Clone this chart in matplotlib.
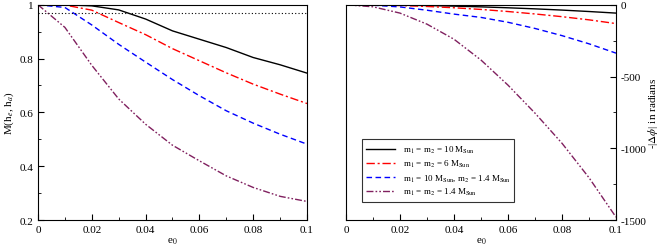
import matplotlib
matplotlib.use("Agg")
import matplotlib.pyplot as plt
from matplotlib.ticker import MultipleLocator

plt.rcParams['font.family'] = ['Liberation Serif', 'DejaVu Serif']
plt.rcParams['mathtext.fontset'] = 'stix'

e0 = [0.0, 0.01, 0.02, 0.03, 0.04, 0.05, 0.06, 0.07, 0.08, 0.09, 0.1]

# Left panel: match M(h_e, h_a)
match_10_10 = [1.0, 1.0, 0.996, 0.981, 0.947, 0.903, 0.872, 0.841, 0.804, 0.777, 0.746]
match_6_6 = [1.0, 0.999, 0.980, 0.934, 0.889, 0.837, 0.792, 0.747, 0.705, 0.668, 0.633]
match_10_14 = [1.0, 0.990, 0.925, 0.853, 0.787, 0.722, 0.662, 0.606, 0.560, 0.519, 0.482]
match_14_14 = [1.0, 0.916, 0.775, 0.650, 0.556, 0.478, 0.420, 0.364, 0.321, 0.288, 0.269]
threshold = 0.97

# Right panel: -|delta phi| in radians
phase_10_10 = [0, -0.6, -2.3, -5.2, -9.3, -14.5, -21, -28.4, -37, -47, -58]
phase_6_6 = [0, -1.3, -5.2, -11.7, -20.8, -32.5, -47, -64, -83, -105, -131]
phase_10_14 = [0, -3, -15, -38, -65, -88, -122, -165, -215, -272, -337]
phase_14_14 = [0, -14, -58, -135, -240, -385, -560, -755, -965, -1205, -1480]

labels = [r'm$_1$ = m$_2$ = 10 M$_{\rm Sun}$',
          r'm$_1$ = m$_2$ = 6 M$_{\rm Sun}$',
          r'm$_1$ = 10 M$_{\rm Sun}$, m$_2$ = 1.4 M$_{\rm Sun}$',
          r'm$_1$ = m$_2$ = 1.4 M$_{\rm Sun}$']
colors = ['black', '#ff0000', '#0000ff', '#80205f']
styles = ['-', (0, (6, 2, 1.5, 2)), (0, (4, 2.5)), (0, (5, 1.5, 1.2, 1.5, 1.2, 1.5))]

fig = plt.figure(figsize=(6.64, 2.51), dpi=100)
ax1 = fig.add_axes([0.0572, 0.1195, 0.4051, 0.8575])
ax2 = fig.add_axes([0.521, 0.1195, 0.4067, 0.8575])

for ys, c, ls in zip([match_10_10, match_6_6, match_10_14, match_14_14], colors, styles):
    ax1.plot(e0, ys, color=c, linestyle=ls, lw=1.0)
ax1.plot([e0[0], e0[-1]], [threshold, threshold], color='black', linestyle=(0, (1, 2)), lw=0.8)
ax1.set_xlim(0, 0.1)
ax1.set_ylim(0.2, 1.0)
ax1.set_xticks([0, 0.02, 0.04, 0.06, 0.08, 0.1])
ax1.set_xticklabels(['0', '0.02', '0.04', '0.06', '0.08', '0.1'])
ax1.xaxis.set_minor_locator(MultipleLocator(0.01))
ax1.set_yticks([0.2, 0.4, 0.6, 0.8, 1.0])
ax1.set_yticklabels(['0.2', '0.4', '0.6', '0.8', '1'])
ax1.yaxis.set_minor_locator(MultipleLocator(0.1))
ax1.tick_params(which='both', direction='in', labelsize=8, top=False, right=False)
ax1.tick_params(which='major', length=4)
ax1.tick_params(which='minor', length=2)
ax1.set_xlabel(r'e$_0$', fontsize=8, labelpad=1)
ax1.set_ylabel(r'M(h$_e$, h$_a$)', fontsize=8, labelpad=2)

for ys, c, ls, lab in zip([phase_10_10, phase_6_6, phase_10_14, phase_14_14], colors, styles, labels):
    ax2.plot(e0, ys, color=c, linestyle=ls, lw=1.0, label=lab)
ax2.set_xlim(0, 0.1)
ax2.set_ylim(-1500, 0)
ax2.set_xticks([0, 0.02, 0.04, 0.06, 0.08, 0.1])
ax2.set_xticklabels(['0', '0.02', '0.04', '0.06', '0.08', '0.1'])
ax2.xaxis.set_minor_locator(MultipleLocator(0.01))
ax2.yaxis.tick_right()
ax2.yaxis.set_label_position('right')
ax2.set_yticks([-1500, -1000, -500, 0])
ax2.set_yticklabels(['-1500', '-1000', '-500', '0'])
ax2.yaxis.set_minor_locator(MultipleLocator(250))
ax2.tick_params(which='both', direction='in', labelsize=8, top=False, left=False, right=True)
ax2.tick_params(which='major', length=4)
ax2.tick_params(which='minor', length=2)
ax2.set_xlabel(r'e$_0$', fontsize=8, labelpad=1)
ax2.set_ylabel(r'-|$\Delta\phi$| in radians', fontsize=8, labelpad=0)
ax2.yaxis.set_label_coords(1.112, 0.5)

leg = ax2.legend(loc='lower left', bbox_to_anchor=(0.059, 0.084, 0.563, 0.227), mode='expand',
                 fontsize=6.5, frameon=True, fancybox=False, edgecolor='black',
                 handlelength=3.2, borderaxespad=0, labelspacing=0.35, borderpad=0.5)
leg.get_frame().set_linewidth(0.8)

fig.savefig('out.png', dpi=100)
